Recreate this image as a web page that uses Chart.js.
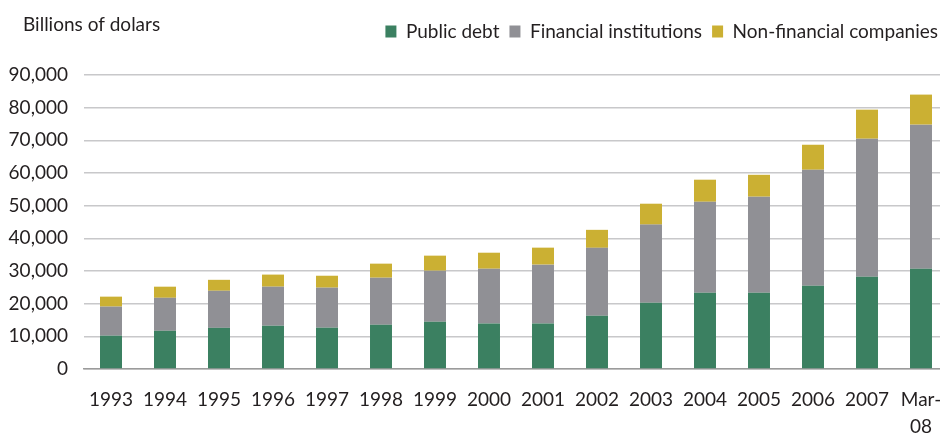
<!DOCTYPE html>
<html>
<head>
<meta charset="utf-8">
<script src="https://cdn.jsdelivr.net/npm/chart.js@4.4.1/dist/chart.umd.min.js"></script>
<style>
  html, body { margin: 0; padding: 0; background: #fff; overflow: hidden; }
  #wrap { width: 948px; height: 434px; }
</style>
</head>
<body>
<div id="wrap"><canvas id="debtChart" width="948" height="434"></canvas></div>
<script>
// data (billions of dollars)
var years = ["1993", "1994", "1995", "1996", "1997", "1998", "1999", "2000",
  "2001", "2002", "2003", "2004", "2005", "2006", "2007", ["Mar-", "08"]];
var publicDebt = [10200, 11700, 12600, 13250, 12650, 13550, 14500, 13900,
  13900, 16300, 20300, 23350, 23350, 25500, 28250, 30700];
var financialInst = [8900, 10100, 11350, 11950, 12250, 14400, 15600, 16800,
  18050, 20800, 23900, 27850, 29400, 35500, 42250, 44100];
var nonFinancial = [3050, 3400, 3350, 3700, 3650, 4300, 4600, 4900,
  5200, 5500, 6400, 6750, 6700, 7650, 8900, 9200];
var yTicks = [0, 10000, 20000, 30000, 40000, 50000, 60000, 70000, 80000, 90000];
var unitLabel = "Billions of dolars";

var fontFamily = "Lato, 'Open Sans', sans-serif";
var textColor = "#231f20";

// draws the unit text at the top left, and leaves some room under the legend
var unitText = {
  id: "unitText",
  beforeInit: function(chart) {
    var legend = chart.legend;
    if (legend) {
      var fit = legend.fit;
      legend.fit = function() {
        fit.call(this);
        this.height += 24;
      };
    }
  },
  afterDraw: function(chart) {
    var ctx = chart.ctx;
    ctx.save();
    ctx.font = "19px " + fontFamily;
    ctx.fillStyle = textColor;
    ctx.textAlign = "left";
    ctx.textBaseline = "middle";
    ctx.fillText(unitLabel, 23, 25);
    ctx.restore();
  }
};

// canvas is 8px wider than the window: the plot runs past the right edge, as in the original
var ctx = document.getElementById("debtChart").getContext("2d");
var chart = new Chart(ctx, {
  type: "bar",
  data: {
    labels: years,
    datasets: [
      { label: "Public debt", data: publicDebt, backgroundColor: "#3b8061" },
      { label: "Financial institutions", data: financialInst, backgroundColor: "#909095" },
      { label: "Non-financial companies", data: nonFinancial, backgroundColor: "#cbb033" }
    ]
  },
  options: {
    responsive: false,
    animation: false,
    devicePixelRatio: 1,
    layout: { padding: { left: 0, right: 0, top: 12, bottom: 0 } },
    datasets: {
      bar: { categoryPercentage: 1, barPercentage: 0.407 }
    },
    plugins: {
      legend: {
        position: "top",
        align: "end",
        labels: {
          boxWidth: 11,
          boxHeight: 12,
          padding: 10,
          color: textColor,
          font: { family: fontFamily, size: 19 }
        }
      },
      tooltip: { enabled: false }
    },
    scales: {
      x: {
        stacked: true,
        grid: { display: false, drawTicks: false },
        border: { display: true, color: "#9b9b9b", width: 1.5 },
        ticks: {
          color: textColor,
          padding: 18,
          maxRotation: 0,
          autoSkip: false,
          font: { family: fontFamily, size: 19, lineHeight: 1.4 }
        },
        afterFit: function(scale) {
          scale.height = 65;
          scale.paddingLeft = 0;
          scale.paddingRight = 0;
        }
      },
      y: {
        stacked: true,
        min: 0,
        max: 90000,
        border: { display: false },
        grid: {
          drawTicks: false,
          lineWidth: 1.5,
          color: "#c8c8ca"
        },
        afterBuildTicks: function(scale) {
          scale.ticks = yTicks.map(function(v) { return { value: v }; });
        },
        ticks: {
          color: textColor,
          padding: 16,
          font: { family: fontFamily, size: 19 },
          callback: function(v) { return Number(v).toLocaleString("en-US"); }
        },
        afterFit: function(scale) { scale.width = 84; }
      }
    }
  },
  plugins: [unitText]
});
</script>
</body>
</html>
